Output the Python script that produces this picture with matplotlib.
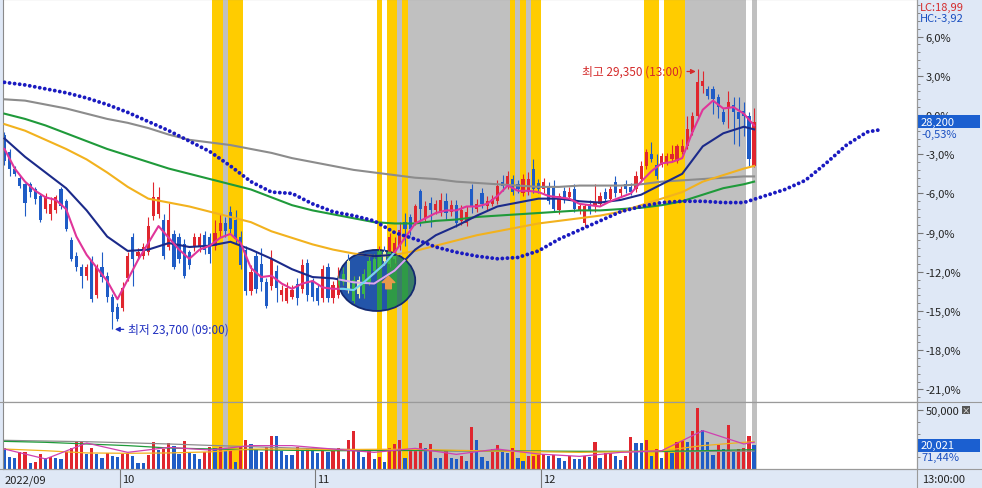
import numpy as np
import matplotlib
matplotlib.use('Agg')
import matplotlib.pyplot as plt
import matplotlib.transforms as mtransforms
from matplotlib.patches import Ellipse, Rectangle
from matplotlib.path import Path
from matplotlib.lines import Line2D

plt.rcParams['font.family'] = ['Noto Sans CJK KR', 'DejaVu Sans']

# ---------------- data ----------------
base_price = 28350          # price that the axis shows as 0,0%
high_price, high_day = 29350, 135
low_price, low_day = 23700, 21

# candles, in % against base_price
opens = [-1.5, -2.8, -4.1, -4.8, -5.3, -5.3, -5.7, -6.2, -7.2, -7.6,
         -7.3, -5.7, -6.6, -9.6, -10.8, -11.6, -12.3, -11.2, -13.8, -11.6,
         -12.3, -13.9, -14.7, -14.8, -12.5, -9.3, -10.8, -10.8, -10.5, -7.7,
         -7.6, -8.0, -10.1, -9.1, -9.3, -9.9, -10.5, -10.1, -10.1, -9.2,
         -9.3, -10.0, -8.9, -8.3, -7.4, -8.0, -9.3, -10.3, -13.5, -10.8,
         -11.4, -12.8, -13.1, -11.9, -13.8, -14.2, -13.9, -12.9, -13.3, -11.3,
         -12.8, -13.2, -14.0, -11.6, -14.0, -13.8, -12.8, -11.2, -14.2, -12.6,
         -13.7, -12.8, -11.9, -11.6, -10.5, -11.4, -11.0, -10.0, -8.2, -7.8,
         -8.2, -5.8, -7.9, -6.7, -7.3, -7.5, -6.6, -7.4, -6.9, -8.1,
         -8.3, -5.7, -7.2, -6.0, -7.0, -6.8, -6.6, -5.1, -5.5, -4.9,
         -5.3, -6.0, -5.9, -4.1, -5.2, -5.7, -5.4, -5.6, -7.3, -5.8,
         -6.3, -5.7, -7.3, -8.3, -6.8, -7.0, -6.8, -5.9, -6.4, -5.1,
         -6.0, -5.3, -5.5, -5.7, -4.9, -3.9, -3.0, -3.8, -3.8, -3.6,
         -3.4, -3.5, -2.8, -2.4, -1.3, -0.1, 2.2, 2.0, 2.0, 1.4,
         0.2, 0.5, 0.8, 0.2, 0.3, -0.1, -3.9]
highs = [-1.3, -2.6, -3.9, -4.6, -5.2, -5.1, -5.5, -6.0, -6.0, -6.3,
         -6.1, -5.5, -6.4, -9.3, -10.5, -11.4, -11.4, -10.8, -11.4, -10.5,
         -12.0, -13.7, -14.4, -12.8, -10.5, -9.0, -10.2, -9.8, -7.8, -5.1,
         -5.5, -7.6, -6.7, -8.8, -9.0, -9.5, -10.3, -9.0, -9.0, -8.9,
         -9.0, -8.0, -7.6, -7.8, -7.0, -7.3, -8.9, -10.0, -11.5, -10.5,
         -10.2, -12.5, -10.3, -11.5, -13.0, -12.8, -13.0, -12.5, -11.0, -11.0,
         -12.5, -12.9, -11.5, -11.3, -12.7, -11.6, -11.6, -10.6, -12.3, -12.3,
         -11.8, -10.8, -10.6, -10.0, -10.0, -9.0, -9.3, -8.2, -7.5, -7.6,
         -6.8, -5.7, -6.6, -6.3, -6.5, -6.0, -6.0, -6.5, -6.5, -6.9,
         -7.0, -5.3, -6.4, -5.6, -6.2, -6.1, -5.0, -4.6, -4.3, -4.6,
         -5.0, -4.5, -4.4, -3.4, -4.9, -4.8, -5.1, -5.0, -6.0, -5.5,
         -5.5, -5.3, -6.7, -6.8, -6.5, -5.3, -5.9, -5.6, -5.4, -4.7,
         -5.4, -5.0, -5.2, -4.3, -3.5, -2.6, -2.1, -3.0, -2.9, -2.9,
         -2.3, -2.2, -1.8, -0.1, 0.2, 3.53, 3.4, 2.2, 2.2, 1.6,
         0.5, 1.8, 1.4, 1.4, 1.0, 0.2, 0.5]
lows = [-3.8, -4.7, -4.7, -5.6, -7.7, -6.3, -6.8, -8.2, -7.5, -8.0,
        -7.5, -7.2, -8.9, -11.2, -11.9, -13.2, -12.6, -14.3, -14.0, -12.8,
        -14.3, -16.4, -15.8, -15.0, -12.7, -13.1, -11.0, -11.0, -10.7, -8.0,
        -7.9, -11.0, -10.3, -11.8, -11.3, -12.5, -11.8, -10.4, -10.5, -10.6,
        -11.3, -10.3, -9.3, -9.3, -9.0, -9.8, -11.8, -13.8, -13.8, -13.6,
        -13.5, -14.8, -13.4, -14.3, -14.2, -14.4, -14.1, -14.5, -13.6, -14.2,
        -14.2, -14.5, -14.3, -14.3, -14.4, -14.0, -13.0, -13.6, -14.4, -14.0,
        -14.0, -13.0, -12.2, -11.8, -11.5, -11.6, -11.3, -10.3, -10.0, -9.2,
        -8.4, -8.5, -8.2, -8.6, -7.6, -7.7, -8.0, -7.7, -8.6, -8.4,
        -8.5, -7.5, -7.4, -7.1, -7.3, -7.0, -6.8, -5.8, -5.7, -6.1,
        -6.0, -6.2, -6.1, -6.0, -6.0, -6.0, -6.8, -7.4, -7.6, -6.7,
        -6.5, -7.4, -7.6, -8.6, -7.6, -7.4, -7.0, -6.6, -6.6, -6.3,
        -6.2, -6.0, -6.1, -5.9, -5.1, -4.1, -3.6, -4.9, -4.0, -3.8,
        -3.6, -3.7, -3.0, -2.6, -1.5, -0.3, 1.7, 1.2, 0.1, -0.2,
        -0.7, -1.0, -2.2, -2.4, -1.6, -3.9, -4.0]
closes = [-3.5, -4.1, -4.5, -5.4, -6.7, -5.9, -6.4, -8.0, -6.2, -6.8,
          -6.3, -7.0, -8.7, -11.0, -11.6, -12.3, -11.6, -14.1, -11.6, -12.4,
          -13.9, -15.1, -15.6, -13.2, -10.8, -11.0, -10.5, -10.1, -8.5, -6.3,
          -6.3, -10.8, -8.0, -11.6, -11.0, -12.3, -11.5, -9.3, -9.3, -10.3,
          -10.6, -9.0, -8.3, -8.9, -8.7, -9.5, -11.5, -13.5, -12.0, -13.3,
          -12.8, -14.6, -11.0, -13.2, -13.4, -13.2, -13.4, -14.0, -11.5, -13.8,
          -13.9, -14.2, -11.8, -14.0, -13.0, -12.6, -12.2, -13.3, -12.6, -13.7,
          -12.2, -11.2, -11.0, -10.5, -11.2, -9.3, -9.8, -8.8, -8.7, -8.7,
          -7.0, -7.2, -7.0, -7.3, -6.8, -6.5, -7.5, -6.9, -8.3, -7.3,
          -7.4, -7.0, -6.8, -6.8, -6.6, -6.4, -5.4, -5.4, -4.7, -5.9,
          -5.7, -4.9, -4.9, -5.7, -5.7, -5.1, -6.6, -7.2, -6.2, -6.4,
          -5.9, -7.2, -7.0, -7.0, -7.3, -6.7, -6.2, -6.4, -5.7, -6.0,
          -5.7, -5.7, -5.9, -4.7, -3.9, -2.8, -3.4, -4.7, -3.1, -3.1,
          -3.0, -2.4, -2.4, -1.1, -0.1, 2.5, 2.6, 1.45, 1.2, 0.6,
          -0.5, 1.0, 0.2, -0.3, -0.1, -3.4, -0.53]

volumes = [17500, 9900, 9000, 14100, 14700, 5100, 5600, 12700, 9000, 9900,
           9000, 8800, 14100, 17500, 22600, 23400, 12700, 17500, 12700, 9000,
           13300, 10700, 10500, 12700, 13600, 10700, 5100, 5000, 11900, 22600,
           16400, 16800, 21700, 19800, 12700, 23400, 14100, 12700, 8500, 14100,
           18300, 17500, 18300, 15500, 15800, 6200, 18300, 24800, 21200, 16900,
           14100, 18300, 28200, 28000, 15500, 11900, 11800, 18300, 15500, 17500,
           15500, 13300, 17500, 14100, 15500, 17500, 8500, 24800, 32500, 16900,
           9900, 15500, 8500, 9900, 6200, 17800, 21200, 24600, 9000, 15500,
           15700, 22000, 17500, 21200, 9000, 8900, 16400, 9000, 8800, 11300,
           7100, 35300, 24600, 9900, 7100, 16900, 20300, 14100, 13900, 17800,
           9000, 7100, 10700, 11300, 11500, 12700, 10700, 11900, 9000, 7100,
           10700, 8500, 8300, 10700, 9900, 23100, 9000, 13600, 13800, 10700,
           7600, 10700, 26800, 22000, 21800, 24800, 10700, 16900, 9000, 14100,
           13600, 23000, 24000, 23100, 32500, 51700, 33300, 22600, 11900, 20300,
           16900, 37300, 14100, 16900, 17500, 27700, 20021]
volume_ratio_text = '71,44%'

# moving averages (in %)
ma5_days = list(range(0, 147, 2))
ma5 = [-2.6, -4.1, -5.1, -5.8, -6.3, -6.5, -7.2, -9.3, -10.7, -11.7,
       -12.7, -14.1, -12.6, -11.1, -9.8, -8.5, -9.4, -10.3, -11.0, -10.3,
       -10.0, -9.4, -9.1, -9.8, -11.7, -12.4, -12.3, -12.9, -13.3, -12.9,
       -12.7, -13.2, -13.3, -13.3, -13.4, -12.8, -12.1, -11.4, -10.5, -9.4,
       -8.3, -7.9, -7.5, -7.3, -7.3, -7.0, -7.0, -6.8, -6.2, -5.4,
       -5.8, -5.8, -5.9, -6.2, -6.3, -6.4, -6.8, -6.9, -7.0, -6.6,
       -6.3, -6.0, -5.1, -4.3, -3.7, -3.6, -3.3, -1.3, 0.4, 1.1,
       0.5, 0.6, 0.1, -0.8]
ma_days = list(range(0, 145, 4)) + [146]
ma20 = [-1.8, -3.2, -4.4, -5.6, -7.3, -9.3, -10.4, -10.3, -9.8, -10.1,
        -10.0, -9.7, -10.3, -11.0, -11.8, -12.4, -12.5, -12.8, -12.9, -11.9,
        -10.3, -9.2, -8.5, -7.7, -7.0, -6.7, -6.4, -6.4, -6.6, -6.7,
        -6.5, -6.1, -5.3, -4.5, -2.4, -1.4, -0.9, -1.1]
ma60 = [-0.7, -1.2, -1.9, -2.6, -3.4, -4.4, -5.5, -6.4, -6.7, -7.0,
        -7.4, -7.8, -8.2, -8.9, -9.4, -9.9, -10.3, -10.6, -10.8, -10.7,
        -10.4, -10.0, -9.6, -9.2, -8.9, -8.6, -8.3, -8.1, -7.9, -7.7,
        -7.4, -6.9, -6.4, -5.9, -5.1, -4.6, -4.1, -3.9]
ma120 = [0.1, -0.3, -0.8, -1.4, -2.0, -2.6, -3.1, -3.6, -4.1, -4.5,
         -4.9, -5.3, -5.7, -6.3, -6.9, -7.3, -7.6, -7.9, -8.2, -8.3,
         -8.3, -8.1, -8.0, -7.8, -7.7, -7.6, -7.5, -7.4, -7.3, -7.3,
         -7.2, -7.1, -6.9, -6.6, -6.1, -5.6, -5.3, -5.1]
ma240 = [1.2, 1.1, 0.8, 0.5, 0.1, -0.3, -0.6, -1.0, -1.5, -1.9,
         -2.1, -2.3, -2.6, -2.9, -3.3, -3.6, -3.9, -4.2, -4.4, -4.6,
         -4.8, -4.9, -5.1, -5.2, -5.3, -5.4, -5.5, -5.5, -5.4, -5.4,
         -5.4, -5.3, -5.1, -5.0, -4.9, -4.8, -4.7, -4.7]
span_days = list(range(0, 169, 4)) + [171]
span = [2.5, 2.3, 2.0, 1.7, 1.3, 0.8, 0.2, -0.5, -1.2, -2.0,
        -2.8, -3.9, -5.1, -5.9, -6.0, -6.8, -7.4, -7.7, -8.1, -9.0,
        -9.5, -10.1, -10.5, -10.8, -11.0, -10.9, -10.4, -9.5, -8.8, -8.1,
        -7.4, -7.0, -6.7, -6.6, -6.6, -6.7, -6.7, -6.2, -5.7, -5.0,
        -3.7, -2.3, -1.3, -1.1]

# volume moving averages
vma_days = list(range(0, 145, 8)) + [146]
vma5 = [16900, 8500, 22000, 14100, 18300, 16100, 19800, 19800, 16900, 14100,
        17500, 12400, 16900, 12700, 10700, 14100, 15500, 32500, 21200, 22600]
vma20 = [16900, 15500, 13600, 13300, 13600, 14500, 16900, 16900, 16400, 16700,
         16700, 15800, 15200, 14700, 14100, 14600, 15500, 19800, 22600, 23100]
vma60 = [23400, 22600, 21200, 19800, 17800, 17000, 16400, 15800, 15500, 15600,
         15800, 15600, 15500, 15200, 15000, 15000, 15000, 15500, 16200, 16400]
vma120 = [24300, 23700, 23100, 22200, 21200, 20000, 18900, 17800, 16900, 16000,
          15500, 15200, 15000, 14800, 14700, 14700, 14700, 14900, 15100, 15200]

# signal shading (candle index runs)
yellow_runs = [(41, 42), (44, 46), (73, 73), (75, 76), (78, 78), (99, 99),
               (101, 101), (103, 104), (125, 127), (129, 132)]
gray_runs = [(43, 43), (77, 77), (79, 98), (100, 100), (102, 102),
             (133, 144), (146, 146)]

month_labels = ['2022/09', '10', '11', '12']
month_start = [0, 23, 61, 105]
price_ticks = [6, 3, 0, -3, -6, -9, -12, -15, -18, -21]

# ---------------- styles ----------------
W, H = 982, 489
RED, BLUE = '#e0262e', '#1f5cc6'
YEL, GRY = '#ffcc00', '#c0c0c0'
PANEL = '#dfe8f6'
SPINE = '#8a8a8a'


def fx(px):
    return px / W


def fy(py):
    return 1 - py / H


def pct_label(v, d=1):
    return f'{v:.{d}f}%'.replace('.', ',')


fig = plt.figure(figsize=(W / 100, H / 100), dpi=100, facecolor=PANEL)
ax = fig.add_axes([fx(3), fy(403), fx(914), 403 / H])
axv = fig.add_axes([fx(3), fy(470), fx(914), 67 / H])

xlim = (-0.29, 177.73)
for a in (ax, axv):
    a.set_facecolor('white')
    a.set_xlim(*xlim)
    a.set_xticks([])
    for s in a.spines.values():
        s.set_color(SPINE)
        s.set_linewidth(0.8)
    a.yaxis.tick_right()
    a.tick_params(axis='y', which='both', direction='out', color='#777',
                  labelcolor='#222', labelsize=8, pad=2)
    a.tick_params(axis='y', which='major', length=4)
    a.tick_params(axis='y', which='minor', length=2)
    for s, e in yellow_runs:
        a.axvspan(s - 0.5, e + 0.5, color=YEL, lw=0, zorder=0.5)
    for s, e in gray_runs:
        a.axvspan(s - 0.5, e + 0.5, color=GRY, lw=0, zorder=0.5)

ax.set_ylim(-21.96, 8.875)
ax.set_yticks(price_ticks)
ax.set_yticklabels([pct_label(t) for t in price_ticks])
ax.set_yticks(np.arange(-21.6, 8.5, 0.6), minor=True)

# highlighted ellipse
ell = Ellipse((72.5, -12.66), 15.0, 4.67, facecolor='#2355aa',
              edgecolor='none', zorder=1.5)
ax.add_patch(ell)
for s, e in yellow_runs:
    sp = ax.axvspan(s - 0.5, e + 0.5, color='#2f9a46', lw=0, zorder=1.6)
    sp.set_clip_path(ell)
for s, e in gray_runs:
    sp = ax.axvspan(s - 0.5, e + 0.5, color='#3a7d66', lw=0, zorder=1.6)
    sp.set_clip_path(ell)
ax.add_patch(Ellipse((72.5, -12.66), 15.0, 4.67, facecolor='none',
                     edgecolor='#142a70', lw=1.3, zorder=1.7))

x = np.arange(len(closes))
o = np.array(opens)
c = np.array(closes)


def draw_candles(up_col, dn_col, z, clip=None):
    cols = [up_col if cc >= oo else dn_col for oo, cc in zip(o, c)]
    wick = ax.vlines(x, lows, highs, colors=cols, lw=0.8, zorder=z)
    body = ax.bar(x, np.maximum(np.abs(c - o), 0.08), bottom=np.minimum(o, c),
                  width=0.62, color=cols, lw=0, zorder=z)
    if clip is not None:
        wick.set_clip_path(clip)
        for b in body:
            b.set_clip_path(clip)


draw_candles(RED, BLUE, 2.5)
draw_candles('#3cb54a', '#eef0a8', 4, clip=ell)

lines = [(ma_days, ma240, '#8c8c8c', None),
         (ma_days, ma120, '#1f9a3a', None),
         (ma_days, ma60, '#f2b21e', '#16257a'),
         (ma_days, ma20, '#1b2a8a', '#d9a9ef'),
         (ma5_days, ma5, '#e0359a', '#6fd6f2')]
for xs, ys, col, alt in lines:
    ax.plot(xs, ys, color=col, lw=1.5, zorder=3)
    if alt:
        ln, = ax.plot(xs, ys, color=alt, lw=1.5, zorder=5)
        ln.set_clip_path(ell)

ax.plot(span_days, span, color='#1a1ac0', lw=2.8, ls=(0, (0.01, 1.3)),
        dash_capstyle='round', zorder=3)

arrow = Path([(0, 1), (-1, 0), (-0.45, 0), (-0.45, -1), (0.45, -1),
              (0.45, 0), (1, 0), (0, 1)])
ax.plot([74.7], [-12.8], marker=arrow, ms=9, color='#e8994a', ls='none', zorder=6)

# high / low notes
high_pct = (high_price / base_price - 1) * 100
low_pct = (low_price / base_price - 1) * 100
ax.annotate(f'최고 {high_price:,} (13:00)', xy=(high_day - 0.35, high_pct - 0.2),
            xytext=(-13, 0), textcoords='offset pixels', ha='right', va='center',
            color='#d42a2a', fontsize=8.5,
            arrowprops=dict(arrowstyle='-|>', color='#d42a2a', lw=0.9,
                            shrinkA=1, shrinkB=0, mutation_scale=7), zorder=7)
ax.annotate(f'최저 {low_price:,} (09:00)', xy=(low_day + 0.5, low_pct),
            xytext=(13, 0), textcoords='offset pixels', ha='left', va='center',
            color='#2030c0', fontsize=8.5,
            arrowprops=dict(arrowstyle='-|>', color='#2030c0', lw=0.9,
                            shrinkA=1, shrinkB=0, mutation_scale=7), zorder=7)

# current price box
last_price = round(base_price * (1 + closes[-1] / 100) / 10) * 10
tr = mtransforms.blended_transform_factory(fig.transFigure, ax.transData)
ax.add_patch(Rectangle((fx(918), closes[-1] - 0.5), fx(62), 1.0, transform=tr,
                       facecolor='#1b5fd0', edgecolor='none', clip_on=False, zorder=10))
ax.text(fx(921), closes[-1], f'{last_price:,}', transform=tr, color='white',
        fontsize=8, va='center', ha='left', clip_on=False, zorder=11)
ax.text(fx(921), closes[-1] - 0.92, pct_label(closes[-1], 2), transform=tr,
        color='#1a4fc0', fontsize=8, va='center', ha='left', clip_on=False, zorder=11)

lc = (last_price / low_price - 1) * 100
hc = (last_price / high_price - 1) * 100
fig.text(fx(920), fy(8), 'LC:' + f'{lc:.2f}'.replace('.', ','), color='#d42a2a',
         fontsize=8, va='center')
fig.text(fx(920), fy(19), 'HC:' + f'{hc:.2f}'.replace('.', ','), color='#1a4fc0',
         fontsize=8, va='center')

# volume panel
vols = np.array(volumes)
vcols = [BLUE] + [RED if vols[i] > vols[i - 1] else BLUE for i in range(1, len(vols))]
axv.bar(x, vols, width=0.62, color=vcols, lw=0, zorder=2)
for ys, col in [(vma120, '#8c8c8c'), (vma60, '#1f9a3a'), (vma20, '#f2b21e'),
                (vma5, '#d040b0')]:
    axv.plot(vma_days, ys, color=col, lw=0.9, zorder=3)
axv.set_ylim(0, 56750)
axv.set_yticks([50000])
axv.set_yticklabels(['50,000'])
axv.set_yticks(np.arange(10000, 56000, 10000), minor=True)

trv = mtransforms.blended_transform_factory(fig.transFigure, axv.transData)
axv.add_patch(Rectangle((fx(918), volumes[-1] - 5600), fx(62), 11200, transform=trv,
                        facecolor='#1b5fd0', edgecolor='none', clip_on=False, zorder=10))
axv.text(fx(921), volumes[-1], f'{volumes[-1]:,}', transform=trv, color='white',
         fontsize=8, va='center', clip_on=False, zorder=11)
axv.text(fx(921), volumes[-1] - 10200, volume_ratio_text, transform=trv,
         color='#1a4fc0', fontsize=8, va='center', clip_on=False, zorder=11)
fig.patches.append(Rectangle((fx(962), fy(415)), fx(8), 8 / H, transform=fig.transFigure,
                             facecolor='#555555', edgecolor='none'))
fig.text(fx(966), fy(411), '×', color='white', fontsize=6, ha='center', va='center')

# date bar
axd = fig.add_axes([fx(3), 0, fx(914), 19 / H])
axd.set_xlim(*xlim)
axd.set_ylim(0, 1)
axd.axis('off')
for m, lab in zip(month_start, month_labels):
    if m > 0:
        axd.plot([m - 0.5, m - 0.5], [0, 1], color='#7a7a7a', lw=0.8)
        axd.text(m - 0.5 + 0.4, 0.45, lab, fontsize=8, color='#222', va='center')
    else:
        axd.text(0.0, 0.45, lab, fontsize=8, color='#222', va='center')
fig.text(fx(922), fy(480), '13:00:00', fontsize=8, color='#222', va='center')

# frame lines
for py in (403, 470):
    fig.add_artist(Line2D([0, 1], [fy(py), fy(py)], transform=fig.transFigure,
                          color='#9a9a9a', lw=0.8))
fig.add_artist(Line2D([fx(917), fx(917)], [0, 1], transform=fig.transFigure,
                      color='#9a9a9a', lw=0.8))

fig.savefig('out.png', dpi=100)
